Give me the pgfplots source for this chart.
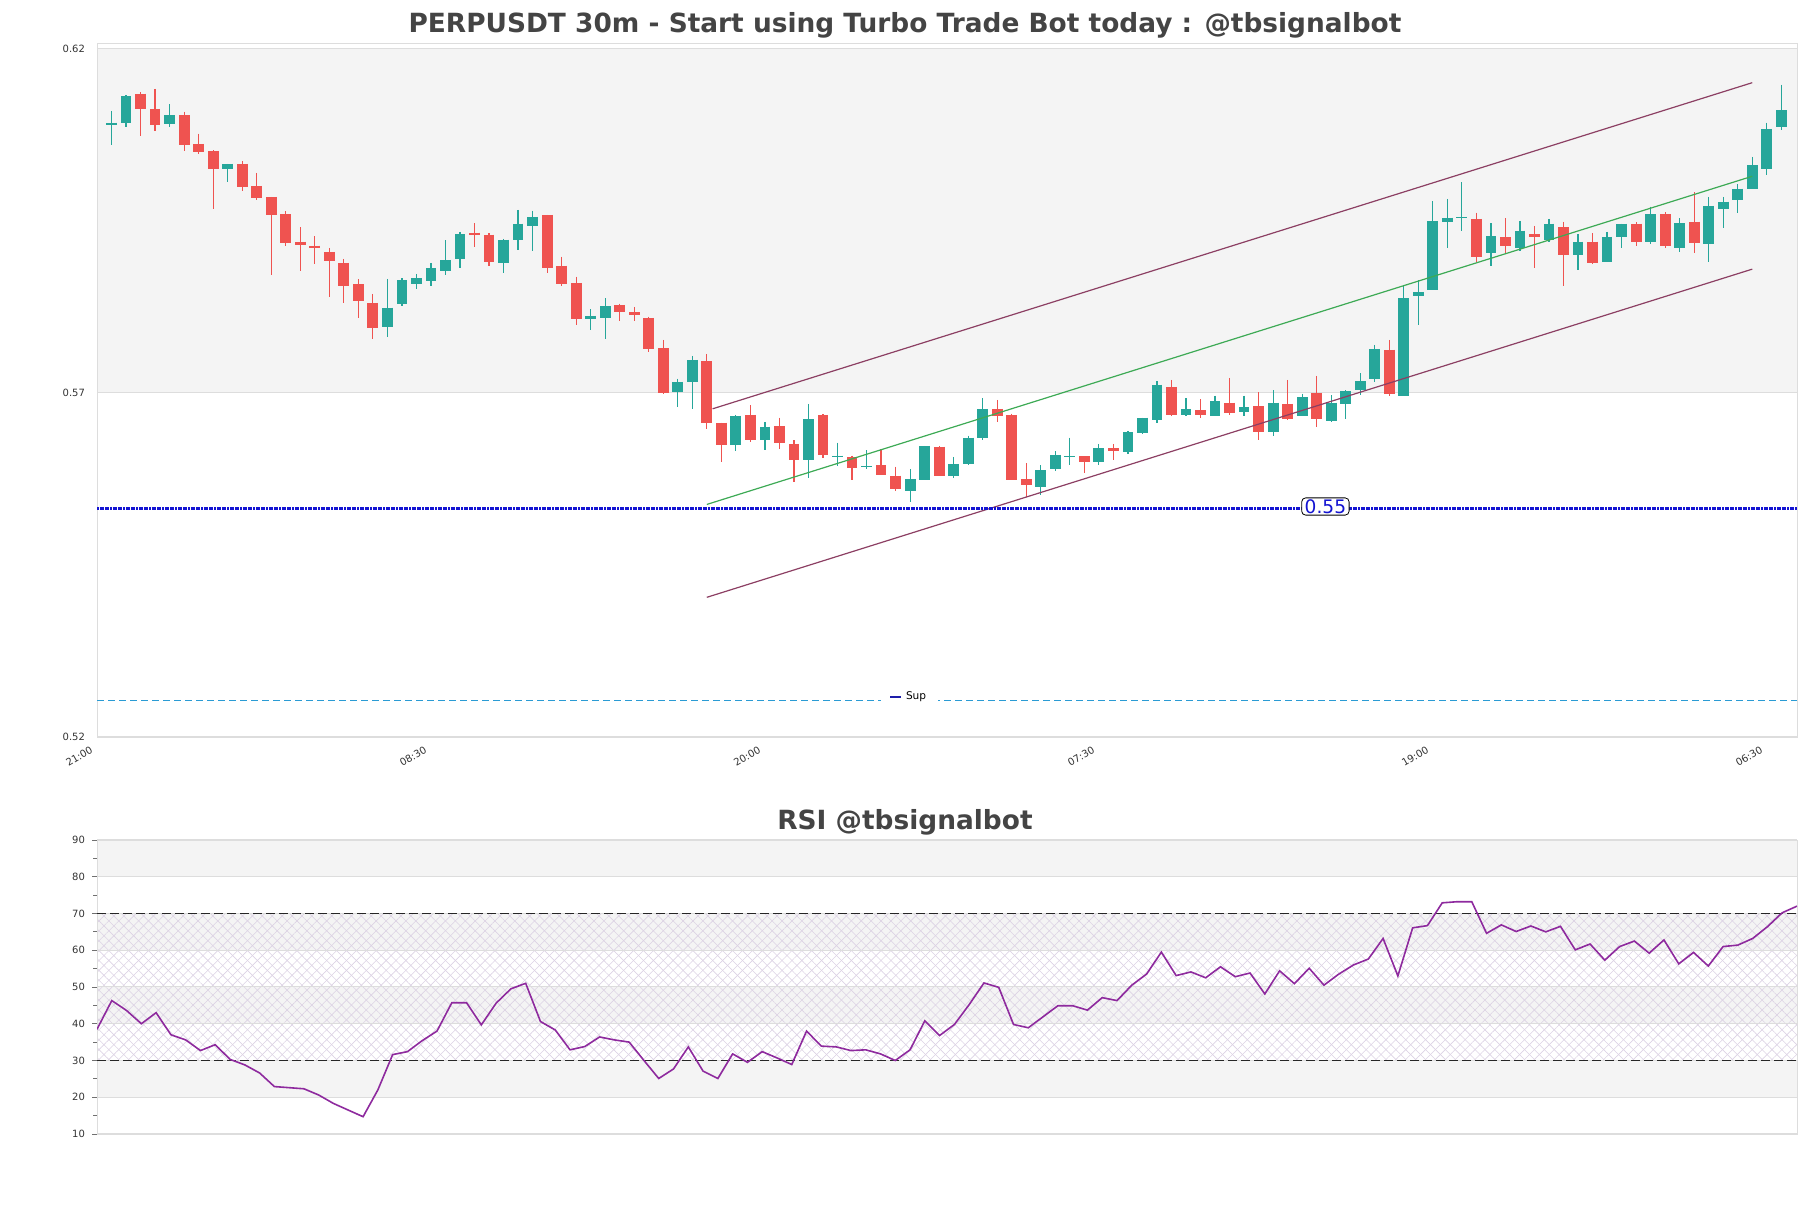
\documentclass[border=0pt]{standalone}
\usepackage{fontspec}
\setmainfont{DejaVu Sans}
\usepackage{pgfplots}
\usepackage{pgfplotstable}
\pgfplotsset{compat=1.18}
\usetikzlibrary{patterns.meta}
\definecolor{bull}{HTML}{26A69A}
\definecolor{bear}{HTML}{EF5350}
\definecolor{band}{HTML}{F4F4F4}
\definecolor{gridc}{HTML}{DDDDDD}
\definecolor{chan}{HTML}{8C3F63}
\definecolor{midc}{HTML}{3DAA55}
\definecolor{supblue}{HTML}{2A9BD4}
\definecolor{lvl}{HTML}{1414D2}
\definecolor{legblue}{HTML}{1E1EAA}
\definecolor{rsic}{HTML}{8E2A9E}
\definecolor{hatch}{HTML}{DCD2E4}
\definecolor{titlec}{HTML}{444444}
\definecolor{tickc}{HTML}{333333}

\pgfplotstableread{
n o h l c
1 0.6089 0.6110 0.6060 0.6093
2 0.6093 0.6133 0.6086 0.6132
5 0.6091 0.6120 0.6087 0.6104
9 0.6026 0.6033 0.6006 0.6033
20 0.5796 0.5866 0.5782 0.5824
21 0.5829 0.5867 0.5827 0.5864
22 0.5858 0.5873 0.5851 0.5867
23 0.5863 0.5889 0.5856 0.5882
24 0.5878 0.5922 0.5871 0.5893
25 0.5894 0.5934 0.5882 0.5931
28 0.5889 0.5924 0.5875 0.5923
29 0.5923 0.5966 0.5908 0.5946
30 0.5943 0.5965 0.5907 0.5956
34 0.5808 0.5822 0.5791 0.5812
35 0.5809 0.5838 0.5778 0.5826
40 0.5702 0.5721 0.5679 0.5716
41 0.5716 0.5754 0.5676 0.5748
44 0.5625 0.5668 0.5615 0.5667
46 0.5631 0.5658 0.5617 0.5651
49 0.5603 0.5684 0.5577 0.5662
51 0.5607 0.5628 0.5594 0.5609
53 0.5592 0.5617 0.5590 0.5594
56 0.5558 0.5589 0.5542 0.5575
57 0.5574 0.5623 0.5574 0.5623
59 0.5580 0.5607 0.5576 0.5597
60 0.5597 0.5638 0.5595 0.5635
61 0.5635 0.5693 0.5631 0.5677
65 0.5564 0.5595 0.5552 0.5588
66 0.5589 0.5615 0.5586 0.5610
67 0.5607 0.5635 0.5595 0.5608
69 0.5599 0.5626 0.5595 0.5620
71 0.5614 0.5645 0.5612 0.5643
72 0.5642 0.5664 0.5641 0.5664
73 0.5660 0.5717 0.5657 0.5712
75 0.5668 0.5692 0.5667 0.5677
77 0.5667 0.5696 0.5667 0.5688
79 0.5673 0.5696 0.5667 0.5679
81 0.5644 0.5704 0.5637 0.5686
83 0.5667 0.5699 0.5666 0.5694
85 0.5659 0.5697 0.5658 0.5686
86 0.5684 0.5704 0.5662 0.5703
87 0.5705 0.5729 0.5697 0.5717
88 0.5721 0.5770 0.5716 0.5764
90 0.5696 0.5857 0.5695 0.5838
91 0.5841 0.5864 0.5799 0.5847
92 0.5850 0.5979 0.5849 0.5950
93 0.5948 0.5982 0.5910 0.5955
94 0.5955 0.6006 0.5936 0.5956
96 0.5904 0.5947 0.5885 0.5928
98 0.5910 0.5950 0.5907 0.5936
100 0.5923 0.5953 0.5920 0.5946
102 0.5901 0.5931 0.5879 0.5920
104 0.5891 0.5934 0.5891 0.5927
105 0.5926 0.5946 0.5910 0.5946
107 0.5920 0.5971 0.5917 0.5960
109 0.5911 0.5954 0.5905 0.5947
111 0.5916 0.5985 0.5891 0.5972
112 0.5968 0.5985 0.5940 0.5978
113 0.5980 0.6004 0.5961 0.5997
114 0.5996 0.6043 0.5996 0.6031
115 0.6026 0.6093 0.6017 0.6084
116 0.6086 0.6148 0.6082 0.6111
}\bulltab

\pgfplotstableread{
n o h l c
3 0.6135 0.6137 0.6074 0.6113
4 0.6113 0.6142 0.6081 0.6090
6 0.6104 0.6109 0.6052 0.6060
7 0.6062 0.6077 0.6047 0.6050
8 0.6052 0.6053 0.5967 0.6026
10 0.6033 0.6037 0.5994 0.6000
11 0.6001 0.6020 0.5981 0.5984
12 0.5985 0.5985 0.5872 0.5959
13 0.5960 0.5964 0.5913 0.5918
14 0.5920 0.5941 0.5877 0.5915
15 0.5914 0.5928 0.5888 0.5911
16 0.5905 0.5911 0.5839 0.5892
17 0.5889 0.5895 0.5831 0.5856
18 0.5858 0.5865 0.5809 0.5833
19 0.5831 0.5844 0.5778 0.5795
26 0.5933 0.5947 0.5912 0.5930
27 0.5930 0.5932 0.5885 0.5891
31 0.5959 0.5959 0.5875 0.5881
32 0.5885 0.5898 0.5855 0.5859
33 0.5860 0.5869 0.5799 0.5807
36 0.5828 0.5830 0.5804 0.5818
37 0.5817 0.5825 0.5805 0.5814
38 0.5809 0.5811 0.5759 0.5764
39 0.5765 0.5777 0.5699 0.5700
42 0.5746 0.5757 0.5647 0.5657
43 0.5657 0.5657 0.5600 0.5625
45 0.5668 0.5682 0.5629 0.5632
47 0.5652 0.5664 0.5618 0.5628
48 0.5626 0.5631 0.5571 0.5602
50 0.5668 0.5669 0.5605 0.5610
52 0.5607 0.5609 0.5574 0.5591
54 0.5595 0.5618 0.5581 0.5581
55 0.5580 0.5593 0.5558 0.5560
58 0.5622 0.5623 0.5580 0.5580
62 0.5677 0.5690 0.5658 0.5667
63 0.5668 0.5670 0.5574 0.5574
64 0.5575 0.5598 0.5549 0.5566
68 0.5608 0.5608 0.5583 0.5599
70 0.5620 0.5626 0.5602 0.5615
74 0.5709 0.5719 0.5667 0.5668
76 0.5675 0.5691 0.5663 0.5668
78 0.5686 0.5722 0.5668 0.5671
80 0.5681 0.5701 0.5632 0.5644
82 0.5684 0.5719 0.5661 0.5662
84 0.5700 0.5725 0.5650 0.5662
89 0.5763 0.5777 0.5695 0.5699
95 0.5953 0.5962 0.5891 0.5897
97 0.5927 0.5954 0.5904 0.5914
99 0.5931 0.5943 0.5881 0.5926
101 0.5941 0.5949 0.5855 0.5901
103 0.5920 0.5932 0.5888 0.5889
106 0.5946 0.5948 0.5914 0.5920
108 0.5960 0.5963 0.5910 0.5914
110 0.5949 0.5992 0.5904 0.5918
}\beartab

\pgfplotstableread{
k r
0 38.5
1 46.3
2 43.6
3 40.0
4 43.0
5 37.0
6 35.6
7 32.7
8 34.3
9 30.3
10 28.8
11 26.6
12 22.9
13 22.6
14 22.3
15 20.6
16 18.3
17 16.5
18 14.7
19 22.0
20 31.6
21 32.4
22 35.4
23 38.0
24 45.7
25 45.7
26 39.7
27 45.6
28 49.5
29 51.0
30 40.6
31 38.3
32 32.9
33 33.8
34 36.4
35 35.6
36 35.0
37 30.0
38 25.1
39 27.7
40 33.7
41 27.1
42 25.1
43 31.8
44 29.5
45 32.4
46 30.7
47 28.9
48 38.0
49 33.9
50 33.7
51 32.7
52 32.9
53 31.8
54 30.0
55 32.9
56 40.8
57 36.8
58 39.8
59 45.2
60 51.1
61 49.9
62 39.8
63 38.9
64 41.9
65 44.9
66 44.9
67 43.7
68 47.1
69 46.3
70 50.5
71 53.5
72 59.5
73 53.1
74 54.1
75 52.5
76 55.5
77 52.8
78 53.8
79 48.1
80 54.4
81 50.9
82 55.1
83 50.5
84 53.5
85 56.0
86 57.6
87 63.2
88 53.0
89 66.1
90 66.7
91 72.9
92 73.2
93 73.2
94 64.6
95 66.9
96 65.1
97 66.6
98 65.0
99 66.5
100 60.1
101 61.7
102 57.3
103 61.0
104 62.5
105 59.2
106 62.8
107 56.3
108 59.4
109 55.7
110 61.0
111 61.4
112 63.2
113 66.4
114 70.2
115 72.0
}\rsitab

\pgfplotsset{
  chartbase/.style={
    scale only axis, set layers,
    axis line style={gridc},
    grid style={gridc, line width=0.5pt},
    ymajorgrids,
    tick style={tickc!70, line width=0.4pt},
    major tick length=2.5pt, minor tick length=2pt,
    tick align=outside,
    ytick pos=left,
    /pgf/number format/assume math mode=true,
    ticklabel style={font=\fontsize{5}{6}\selectfont, text=tickc},
  },
}

\begin{document}
\begin{tikzpicture}[x=1pt,y=1pt]
\node[font=\fontsize{13.2}{15}\selectfont\bfseries, text=titlec] at (452.5,591.3) {PERPUSDT 30m - Start using Turbo Trade Bot today : @tbsignalbot};
\node[font=\fontsize{13.2}{15}\selectfont\bfseries, text=titlec] at (452.5,192.8) {RSI @tbsignalbot};

\begin{axis}[chartbase,
  at={(48.5pt,235.5pt)}, anchor=south west,
  width=850pt, height=347pt,
  xmin=0, xmax=117.08, ymin=0.52, ymax=0.62087,
  ytick={0.52,0.57,0.62}, yticklabels={0.52,0.57,0.62},
  xtick={0,23,46,69,92,115},
  xticklabels={21:00,08:30,20:00,07:30,19:00,06:30},
  xtick style={draw=none},
  ytick style={draw=none},
  xticklabel style={rotate=30, anchor=north east, yshift=3.8pt, xshift=-0.5pt, font=\fontsize{5}{6}\selectfont},
  legend style={at={(0.478,0.0576)}, anchor=center, draw=none, fill=white,
    font=\fontsize{5.3}{6}\selectfont, inner xsep=4pt, inner ysep=2pt},
]
\begin{pgfonlayer}{axis background}
\fill[band] (axis cs:0,0.57) rectangle (axis cs:117.08,0.62);
\end{pgfonlayer}

% wicks
\addplot[forget plot, draw=none, mark=none, error bars/.cd, y dir=minus, y explicit, error mark=none,
  error bar style={draw=bull, line width=0.6pt}]
  table[x=n, y=h, y error minus expr={\thisrow{h}-\thisrow{l}}] {\bulltab};
\addplot[forget plot, draw=none, mark=none, error bars/.cd, y dir=minus, y explicit, error mark=none,
  error bar style={draw=bear, line width=0.6pt}]
  table[x=n, y=h, y error minus expr={\thisrow{h}-\thisrow{l}}] {\beartab};
% bodies
\addplot[forget plot, draw=none, mark=none, error bars/.cd, y dir=minus, y explicit, error mark=none,
  error bar style={draw=bull, line width=5.4pt}]
  table[x=n, y=c, y error minus expr={max(\thisrow{c}-\thisrow{o},0.00012)}] {\bulltab};
\addplot[forget plot, draw=none, mark=none, error bars/.cd, y dir=minus, y explicit, error mark=none,
  error bar style={draw=bear, line width=5.4pt}]
  table[x=n, y=o, y error minus expr={max(\thisrow{o}-\thisrow{c},0.00012)}] {\beartab};

% channel
\addplot[forget plot, chan, line width=0.6pt] coordinates {(42.4,0.5677) (114,0.6151)};
\addplot[forget plot, midc, line width=0.6pt] coordinates {(42,0.5538) (114,0.6015)};
\addplot[forget plot, chan, line width=0.6pt] coordinates {(42,0.5403) (114,0.5880)};

% levels
\addplot[forget plot, lvl, line width=1.3pt, dash pattern=on 1pt off 0.3pt] coordinates {(0,0.5532) (117.08,0.5532)};
\addplot[forget plot, supblue, line width=0.7pt, dash pattern=on 3.5pt off 2pt] coordinates {(0,0.5253) (117.08,0.5253)};
\node[draw=black, fill=white, rounded corners=2pt, inner xsep=1.5pt, inner ysep=0.8pt, text=lvl,
  font=\fontsize{9.3}{9.3}\selectfont, line width=0.4pt] at (axis cs:84.6,0.5535) {0.55};

\addlegendimage{legend image code/.code={\draw[legblue, line width=1pt] (0pt,0pt) -- (5.5pt,0pt);}}
\addlegendentry{Sup}
\end{axis}

\begin{axis}[chartbase,
  at={(48.5pt,37pt)}, anchor=south west,
  width=850pt, height=147pt,
  xmin=0, xmax=115, ymin=10, ymax=90,
  ytick={10,20,...,90}, minor ytick={15,25,...,85},
  xtick=\empty,
]
\begin{pgfonlayer}{axis background}
\fill[band] (axis cs:0,80) rectangle (axis cs:115,90);
\fill[band] (axis cs:0,60) rectangle (axis cs:115,70);
\fill[band] (axis cs:0,40) rectangle (axis cs:115,50);
\fill[band] (axis cs:0,20) rectangle (axis cs:115,30);
\fill[pattern={Lines[angle=45,distance=3.5pt,line width=0.3pt]}, pattern color=hatch] (axis cs:0,30) rectangle (axis cs:115,70);
\fill[pattern={Lines[angle=-45,distance=3.5pt,line width=0.3pt]}, pattern color=hatch] (axis cs:0,30) rectangle (axis cs:115,70);
\end{pgfonlayer}
\addplot[black!85, line width=0.6pt, dash pattern=on 4.5pt off 2pt] coordinates {(0,70) (115,70)};
\addplot[black!85, line width=0.6pt, dash pattern=on 4.5pt off 2pt] coordinates {(0,30) (115,30)};
\addplot[rsic, line width=0.8pt, mark=none] table[x=k, y=r] {\rsitab};
\end{axis}
\pgfresetboundingbox
\useasboundingbox (0,0) rectangle (905.5,604);
\end{tikzpicture}
\end{document}
